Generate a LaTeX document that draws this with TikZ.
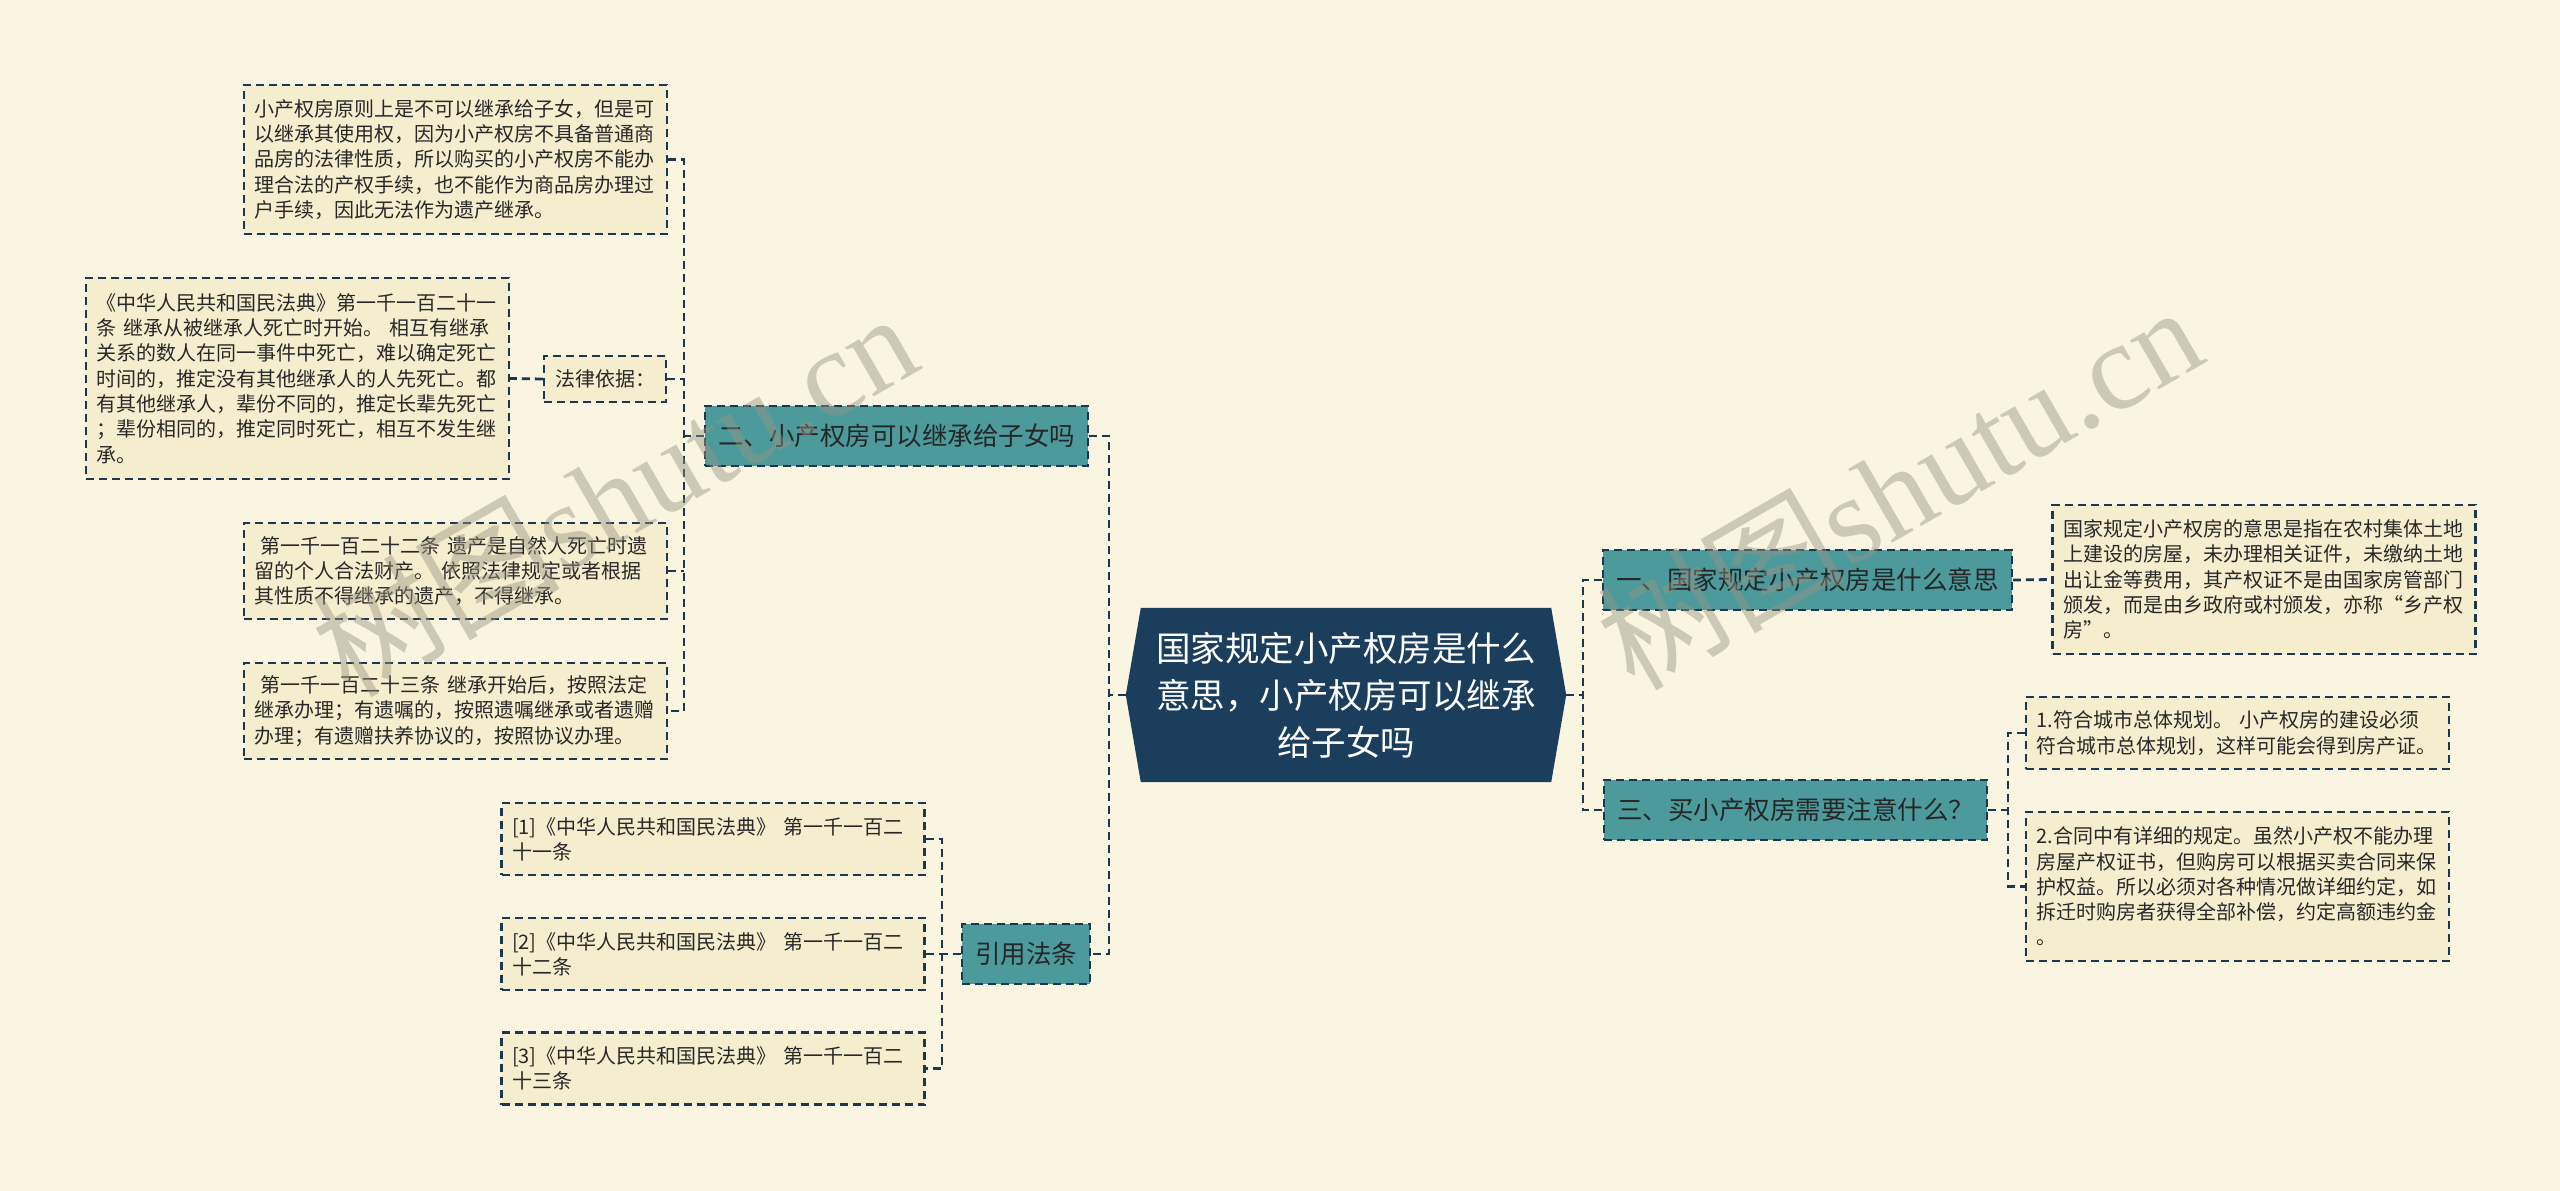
\documentclass[tikz,border=0pt]{standalone}
\usepackage{fontspec}
\setmainfont{Noto Sans CJK SC}
\newfontfamily\wmserif{Liberation Serif}
\usetikzlibrary{backgrounds}
\definecolor{bgc}{RGB}{249,245,225}
\definecolor{boxc}{RGB}{245,238,206}
\definecolor{navy}{RGB}{28,56,80}
\definecolor{tealc}{RGB}{76,154,156}
\definecolor{rootc}{RGB}{27,62,93}
\definecolor{txt}{RGB}{40,40,40}
\definecolor{wmc}{RGB}{150,148,130}
\begin{document}
\begin{tikzpicture}[x=1pt,y=-1pt,
  conn/.style={draw=navy,line width=2.8pt,dash pattern=on 8pt off 5pt},
  detail/.style={draw=navy,fill=boxc,line width=2.1pt,dash pattern=on 8pt off 5pt,text=txt,align=left,
    font=\fontsize{20}{25.3}\selectfont,inner xsep=10.5pt,inner ysep=0pt,text width=402pt},
  small/.style={draw=navy,fill=boxc,line width=2.1pt,dash pattern=on 8pt off 5pt,text=txt,
    font=\fontsize{20}{25.3}\selectfont,inner xsep=11pt,inner ysep=0pt},
  topic/.style={draw=navy,fill=tealc,line width=2.3pt,dash pattern=on 8pt off 5pt,text=black!85,
    font=\fontsize{25.5}{30}\selectfont,inner xsep=13pt,inner ysep=0pt,minimum height=60pt},
  wm/.style={rotate=30,anchor=base west,text=wmc,opacity=0.45,font=\fontsize{124}{124}\selectfont,inner sep=0pt}
]
\useasboundingbox (0,0) rectangle (2560,1191);

% root
\node[text=white,align=center,font=\fontsize{34.5}{47}\selectfont,minimum width=440pt,minimum height=174pt,inner sep=0pt]
  (root) at (1346,695) {国家规定小产权房是什么\\意思，小产权房可以继承\\给子女吗};

% topics
\node[topic] (t1) at (1807.5,580) {一、国家规定小产权房是什么意思};
\node[topic] (t3) at (1795.5,810) {三、买小产权房需要注意什么？};
\node[topic] (t2) at (896.5,436) {二、小产权房可以继承给子女吗};
\node[topic] (t4) at (1026,954) {引用法条};

% right details
\node[detail,minimum height=149pt] (d1) at (2264,579.5) {国家规定小产权房的意思是指在农村集体土地\\上建设的房屋，未办理相关证件，未缴纳土地\\出让金等费用，其产权证不是由国家房管部门\\颁发，而是由乡政府或村颁发，亦称“乡产权\\房”。};
\node[detail,minimum height=72pt] (d3a) at (2237.5,733) {1.符合城市总体规划。~小产权房的建设必须\\符合城市总体规划，这样可能会得到房产证。};
\node[detail,minimum height=149pt] (d3b) at (2237.5,886.5) {2.合同中有详细的规定。虽然小产权不能办理\\房屋产权证书，但购房可以根据买卖合同来保\\护权益。所以必须对各种情况做详细约定，如\\拆迁时购房者获得全部补偿，约定高额违约金\\。};

% left details
\node[detail,minimum height=149pt] (l1) at (455.5,159.5) {小产权房原则上是不可以继承给子女，但是可\\以继承其使用权，因为小产权房不具备普通商\\品房的法律性质，所以购买的小产权房不能办\\理合法的产权手续，也不能作为商品房办理过\\户手续，因此无法作为遗产继承。};
\node[small,minimum height=46pt] (lb) at (605,379) {法律依据：};
\node[detail,minimum height=201pt] (l2) at (297.5,378.5) {《中华人民共和国民法典》第一千一百二十一\\条~继承从被继承人死亡时开始。~相互有继承\\关系的数人在同一事件中死亡，难以确定死亡\\时间的，推定没有其他继承人的人先死亡。都\\有其他继承人，辈份不同的，推定长辈先死亡\\；辈份相同的，推定同时死亡，相互不发生继\\承。};
\node[detail,minimum height=96pt] (l3) at (455.5,571) {\hspace*{0.3em}第一千一百二十二条~遗产是自然人死亡时遗\\留的个人合法财产。~依照法律规定或者根据\\其性质不得继承的遗产，不得继承。};
\node[detail,minimum height=96pt] (l4) at (455.5,711) {\hspace*{0.3em}第一千一百二十三条~继承开始后，按照法定\\继承办理；有遗嘱的，按照遗嘱继承或者遗赠\\办理；有遗赠扶养协议的，按照协议办理。};

% references
\node[detail,minimum height=72pt] (r1) at (713,839) {[1]《中华人民共和国民法典》~第一千一百二\\十一条};
\node[detail,minimum height=72pt] (r2) at (713,954) {[2]《中华人民共和国民法典》~第一千一百二\\十二条};
\node[detail,minimum height=72pt] (r3) at (713,1068.5) {[3]《中华人民共和国民法典》~第一千一百二\\十三条};

% junction coordinates
\coordinate (jl) at (1109,695);
\coordinate (jr) at (1583,695);
\coordinate (j3) at (2008,810);
\coordinate (j2) at (684,436);
\coordinate (j4) at (942,954);

% connectors
\draw[conn] (root.west) -- (jl);
\draw[conn] (t2.east) -- (t2.east -| jl) -- (t4.east -| jl) -- (t4.east);
\draw[conn] (root.east) -- (jr);
\draw[conn] (t1.west) -- (t1.west -| jr) -- (t3.west -| jr) -- (t3.west);
\draw[conn] (t1.east) -- (d1.west);
\draw[conn] (t3.east) -- (j3);
\draw[conn] (d3a.west) -- (d3a.west -| j3) -- (d3b.west -| j3) -- (d3b.west);
\draw[conn] (t2.west) -- (j2);
\draw[conn] (l1.east) -- (l1.east -| j2) -- (l4.east -| j2) -- (l4.east);
\draw[conn] (lb.east) -- (lb.east -| j2);
\draw[conn] (l3.east) -- (l3.east -| j2);
\draw[conn] (lb.west) -- (l2.east);
\draw[conn] (t4.west) -- (j4);
\draw[conn] (r1.east) -- (r1.east -| j4) -- (r3.east -| j4) -- (r3.east);
\draw[conn] (r2.east) -- (r2.east -| j4);

% background and root shape
\begin{pgfonlayer}{background}
\fill[bgc] (0,0) rectangle (2560,1191);
\fill[rootc] (root.west) -- ([xshift=15pt]root.north west) -- ([xshift=-15pt]root.north east)
  -- (root.east) -- ([xshift=-15pt]root.south east) -- ([xshift=15pt]root.south west) -- cycle;
\end{pgfonlayer}

% watermarks
\node[wm] (wm1) at (349,700) {树图{\wmserif shutu.cn}};
\node[wm] (wm2) at (1634,693) {树图{\wmserif shutu.cn}};
\end{tikzpicture}
\end{document}
